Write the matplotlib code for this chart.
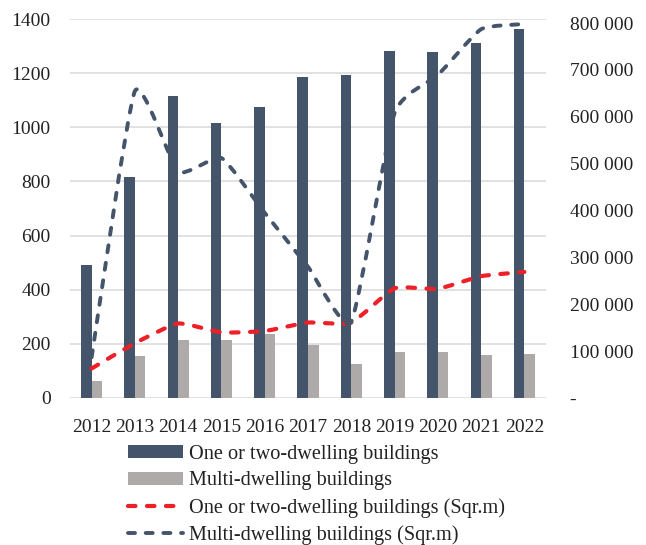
import matplotlib
matplotlib.use("Agg")
import matplotlib.pyplot as plt
import numpy as np
from matplotlib.path import Path
from matplotlib.patches import PathPatch, Patch
from matplotlib.lines import Line2D
from matplotlib.ticker import FuncFormatter

plt.rcParams['font.family'] = ['Liberation Serif', 'DejaVu Serif']

years = ["2012", "2013", "2014", "2015", "2016", "2017", "2018", "2019", "2020", "2021", "2022"]
one_two_buildings = [491, 816, 1114, 1017, 1076, 1184, 1193, 1282, 1277, 1310, 1363]
multi_buildings = [63, 156, 213, 214, 237, 197, 125, 170, 171, 159, 164]
one_two_sqm = [63000, 117000, 159000, 140000, 143000, 161000, 161000, 234000, 233000, 260000, 269000]
multi_sqm = [87000, 655000, 483000, 512000, 395000, 280000, 163000, 608000, 689000, 787000, 798000]

DARK = "#44546A"
GRAY = "#AEAAAA"
RED = "#EE2027"
GRID = "#D9D9D9"
FS = 14


def smooth_path(xs, ys, k=12.0):
    """Cubic Bezier path through the points with gently rounded corners."""
    pts = np.column_stack([xs, ys]).astype(float)
    n = len(pts)
    verts = [pts[0]]
    codes = [Path.MOVETO]
    for i in range(n - 1):
        p_prev = pts[i - 1] if i > 0 else pts[i]
        p0 = pts[i]
        p1 = pts[i + 1]
        p_next = pts[i + 2] if i + 2 < n else pts[i + 1]
        c1 = p0 + (p1 - p_prev) / k
        c2 = p1 - (p_next - p0) / k
        verts += [c1, c2, p1]
        codes += [Path.CURVE4] * 3
    return Path(verts, codes)


fig = plt.figure(figsize=(6.46, 5.45), dpi=100)
ax = fig.add_axes([70 / 646, 1 - 398 / 545, 476 / 646, 379 / 545])
ax2 = ax.twinx()

x = np.arange(len(years))
w = 0.243
ax.bar(x - w / 2, one_two_buildings, width=w, color=DARK, zorder=2)
ax.bar(x + w / 2, multi_buildings, width=w, color=GRAY, zorder=2)

ax.set_xlim(-0.5, len(years) - 0.5)
ax.set_ylim(0, 1400)
ax.set_yticks(np.arange(0, 1401, 200))
ax.set_xticks(x)
ax.set_xticklabels(years)
ax.yaxis.grid(True, color=GRID, linewidth=1.1)
ax.set_axisbelow(True)
ax.tick_params(axis='both', length=0, labelsize=FS, colors='#222222')
ax.tick_params(axis='y', pad=14)
ax.tick_params(axis='x', pad=15)
for s in ax.spines.values():
    s.set_visible(False)

# Floor area lines on the secondary axis
ax2.set_ylim(0, 808800)
ax2.set_yticks(np.arange(0, 800001, 100000))
ax2.yaxis.set_major_formatter(
    FuncFormatter(lambda v, p: "-" if v == 0 else f"{v:,.0f}".replace(",", " ")))
ax2.tick_params(axis='y', length=0, labelsize=FS, pad=17, colors='#222222')
for s in ax2.spines.values():
    s.set_visible(False)

dash = (0, (1.8, 2.75))
red_patch = PathPatch(smooth_path(x, one_two_sqm), facecolor='none', edgecolor=RED,
                      linewidth=3.0, linestyle=dash, capstyle='round', joinstyle='round',
                      transform=ax2.transData, zorder=3)
dark_patch = PathPatch(smooth_path(x, multi_sqm), facecolor='none', edgecolor=DARK,
                       linewidth=2.8, linestyle=dash, capstyle='round', joinstyle='round',
                       transform=ax2.transData, zorder=3)
ax2.add_patch(red_patch)
ax2.add_patch(dark_patch)

handles = [
    Patch(facecolor=DARK, edgecolor='none'),
    Patch(facecolor=GRAY, edgecolor='none'),
    Line2D([], [], color=RED, linewidth=3.0, linestyle=dash, dash_capstyle='round'),
    Line2D([], [], color=DARK, linewidth=2.8, linestyle=dash, dash_capstyle='round'),
]
labels = [
    "One or two-dwelling buildings",
    "Multi-dwelling buildings",
    "One or two-dwelling buildings (Sqr.m)",
    "Multi-dwelling buildings (Sqr.m)",
]
fig.legend(handles, labels, loc='center left', bbox_to_anchor=(128 / 646, 1 - 495 / 545),
           frameon=False, fontsize=14.6, handlelength=2.72, handleheight=0.6,
           handletextpad=0.3, labelspacing=0.38, borderpad=0, borderaxespad=0,
           labelcolor='#222222')

fig.savefig("out.png", dpi=100)
